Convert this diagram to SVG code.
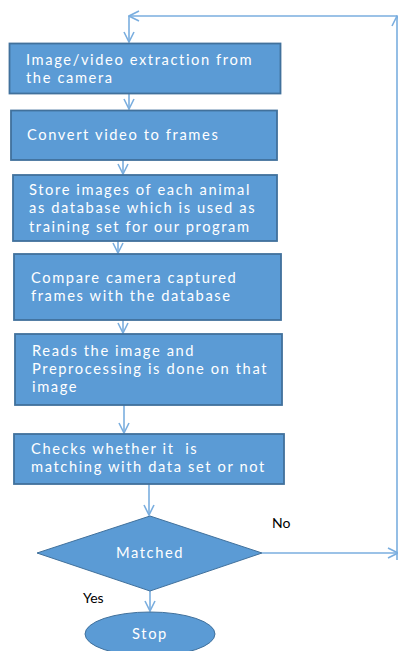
<svg xmlns="http://www.w3.org/2000/svg" width="398" height="651" viewBox="0 0 398 651">
<defs>
<style>
.box{fill:#5B9BD5;stroke:#41719C;stroke-width:1.8}
.t{font-family:Lato,"Liberation Sans",sans-serif;font-size:14.7px;letter-spacing:1.6px;fill:#FFFFFF}
.lbl{font-family:Lato,"Liberation Sans",sans-serif;font-size:14px;fill:#000000}
.c{fill:none;stroke:#7AAEDF;stroke-width:1.6}
</style>
<marker id="arr" viewBox="0 0 12 12" refX="11" refY="6" markerWidth="12" markerHeight="12" markerUnits="userSpaceOnUse" orient="auto">
<path d="M1,1 L11,6 L1,11" fill="none" stroke="#7AAEDF" stroke-width="1.6"/>
</marker>
</defs>
<rect width="398" height="651" fill="#FFFFFF"/>
<g id="connectors">
<line class="c" x1="129" y1="94" x2="129" y2="109" marker-end="url(#arr)"/>
<line class="c" x1="123" y1="160" x2="123" y2="174" marker-end="url(#arr)"/>
<line class="c" x1="118" y1="241" x2="118" y2="253" marker-end="url(#arr)"/>
<line class="c" x1="123" y1="320" x2="123" y2="333" marker-end="url(#arr)"/>
<line class="c" x1="124" y1="405" x2="124" y2="433" marker-end="url(#arr)"/>
<line class="c" x1="149" y1="484" x2="149" y2="515" marker-end="url(#arr)"/>
<line class="c" x1="150" y1="591" x2="150" y2="611" marker-end="url(#arr)"/>
<line class="c" x1="262" y1="553" x2="398" y2="553" marker-end="url(#arr)"/>
<line class="c" x1="397" y1="560" x2="397" y2="16" marker-end="url(#arr)"/>
<line class="c" x1="397" y1="16" x2="129" y2="16" marker-end="url(#arr)"/>
<line class="c" x1="129" y1="16" x2="129" y2="42" marker-end="url(#arr)"/>
</g>
<g id="n1">
<rect class="box" x="9.5" y="43.5" width="271" height="50"/>
<text class="t" x="26" y="65">Image/video extraction from</text>
<text class="t" x="26" y="83">the camera</text>
</g>
<g id="n2">
<rect class="box" x="11" y="110.5" width="266" height="49.5"/>
<text class="t" x="27" y="140">Convert video to frames</text>
</g>
<g id="n3">
<rect class="box" x="13" y="175" width="264" height="66"/>
<text class="t" x="29" y="195">Store images of each animal</text>
<text class="t" x="29" y="213">as database which is used as</text>
<text class="t" x="29" y="232">training set for our program</text>
</g>
<g id="n4">
<rect class="box" x="14" y="254" width="267" height="66"/>
<text class="t" x="31" y="283">Compare camera captured</text>
<text class="t" x="31" y="301">frames with the database</text>
</g>
<g id="n5">
<rect class="box" x="15" y="334" width="267" height="71"/>
<text class="t" x="32" y="356">Reads the image and</text>
<text class="t" x="32" y="374">Preprocessing is done on that</text>
<text class="t" x="32" y="392">image</text>
</g>
<g id="n6">
<rect class="box" x="14" y="434" width="270" height="50"/>
<text class="t" x="31" y="454" style="white-space:pre">Checks whether it  is</text>
<text class="t" x="31" y="472">matching with data set or not</text>
</g>
<g id="n7">
<polygon points="150,516 262,553 150,591 37,553" fill="#5B9BD5" stroke="#41719C" stroke-width="1"/>
<text class="t" x="150" y="558" text-anchor="middle">Matched</text>
</g>
<g id="n8">
<ellipse cx="150" cy="634" rx="65" ry="22" fill="#5B9BD5" stroke="#41719C" stroke-width="1"/>
<text class="t" x="150" y="639" text-anchor="middle">Stop</text>
</g>
<text class="lbl" x="272" y="528">No</text>
<text class="lbl" x="83" y="603">Yes</text>
</svg>
